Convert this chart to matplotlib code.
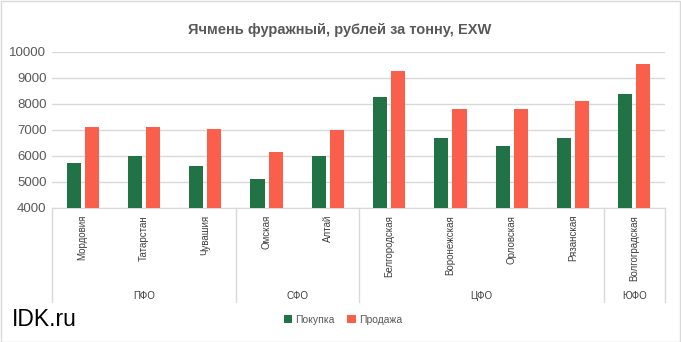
import numpy as np
import matplotlib.pyplot as plt
from matplotlib.transforms import blended_transform_factory
from matplotlib.patches import Rectangle

plt.rcParams['font.family'] = ['Liberation Sans', 'DejaVu Sans']

regions = ['Мордовия', 'Татарстан', 'Чувашия', 'Омская', 'Алтай',
           'Белгородская', 'Воронежская', 'Орловская', 'Рязанская', 'Волгоградская']
groups = ['ПФО', 'СФО', 'ЦФО', 'ЮФО']
group_sizes = [3, 2, 4, 1]
buy = [5750, 6000, 5620, 5100, 6000, 8280, 6700, 6400, 6700, 8400]
sell = [7100, 7100, 7050, 6150, 7000, 9280, 7800, 7800, 8100, 9550]

green = '#217346'
red = '#FA5F4C'
grid_c = '#D9D9D9'
txt_c = '#595959'

W, H = 681, 342
fig = plt.figure(figsize=(W / 100, H / 100), dpi=100)
ax = fig.add_axes([52 / W, 1 - 208 / H, (665 - 52) / W, 156 / H])

x = np.arange(len(regions))
bw = 0.23
gap = 0.065
ax.bar(x - (bw + gap) / 2, buy, bw, color=green, label='Покупка', zorder=3)
ax.bar(x + (bw + gap) / 2, sell, bw, color=red, label='Продажа', zorder=3)

ax.set_xlim(-0.5, len(regions) - 0.5)
ax.set_ylim(4000, 10000)
ax.set_yticks(range(4000, 10001, 1000))
ax.yaxis.grid(True, color=grid_c, lw=1)
ax.set_axisbelow(True)
for s in ['top', 'right', 'left']:
    ax.spines[s].set_visible(False)
ax.spines['bottom'].set_color(grid_c)
ax.tick_params(axis='y', length=0, labelsize=9.5, labelcolor=txt_c, pad=4)
ax.tick_params(axis='x', length=0, labelsize=7, labelcolor='#404040', pad=5)
ax.set_xticks(x)
ax.set_xticklabels(regions, rotation=90, va='top')

# group separators and labels under the category labels
tr = blended_transform_factory(ax.transData, ax.transAxes)
low = (208 - 302) / 156
bounds = np.concatenate([[0], np.cumsum(group_sizes)]) - 0.5
for b in bounds:
    ax.plot([b, b], [0, low], transform=tr, color=grid_c, lw=1, clip_on=False)
for i, g in enumerate(groups):
    c = (bounds[i] + bounds[i + 1]) / 2
    ax.text(c, (208 - 296) / 156, g, transform=tr, ha='center', va='center',
            fontsize=7, color='#404040')

fig.text(340 / W, 1 - 30 / H, 'Ячмень фуражный, рублей за тонну, EXW',
         ha='center', va='center', fontsize=10.5, fontweight='bold', color=txt_c)

fig.legend(loc='center', bbox_to_anchor=(343 / W, 1 - 320 / H), ncol=2,
           frameon=False, fontsize=7.5, handlelength=0.8, handleheight=0.8,
           handletextpad=0.3, columnspacing=1.2, labelcolor=txt_c)

fig.text(12 / W, 1 - 320 / H, 'IDK.ru', ha='left', va='center', fontsize=16.5, color='black')

fig.patches.append(Rectangle((0.5 / W, 0.5 / H), 1 - 1.5 / W, 1 - 1.5 / H,
                             transform=fig.transFigure, fill=False,
                             edgecolor=grid_c, lw=1))

fig.savefig('out.png', dpi=100)
